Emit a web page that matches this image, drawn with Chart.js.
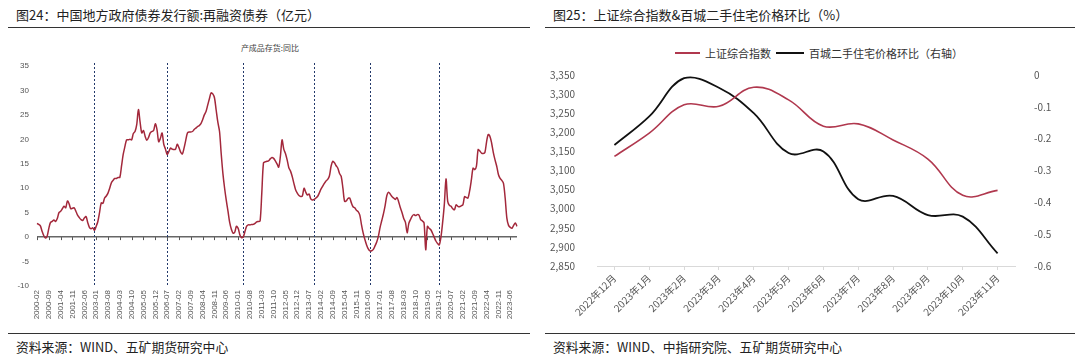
<!DOCTYPE html>
<html>
<head>
<meta charset="utf-8">
<script src="https://cdn.jsdelivr.net/npm/chart.js@4.4.0/dist/chart.umd.min.js"></script>
<style>
body { margin: 0; width: 1080px; height: 361px; background: #fff; position: relative; overflow: hidden; font-family: "Noto Sans CJK SC", sans-serif; }
.title { position: absolute; top: 5px; font-size: 13px; color: #222; white-space: nowrap; }
.rule { position: absolute; height: 1px; background: #333; }
.src { position: absolute; top: 337px; font-size: 12.8px; color: #222; white-space: nowrap; }
.sub { position: absolute; top: 42px; left: 0; width: 540px; text-align: center; font-size: 8px; color: #444; }
.box { position: absolute; }
.legend { position: absolute; top: 45px; font-size: 11px; color: #333; display: flex; align-items: center; white-space: nowrap; }
.legend i { display: inline-block; height: 2px; margin-right: 5px; }
</style>
</head>
<body>
<div class="title" style="left:16px">图24：中国地方政府债券发行额:再融资债券（亿元）</div>
<div class="rule" style="left:8px;width:522px;top:27px"></div>
<div class="sub">产成品存货:同比</div>
<div class="box" style="left:0;top:40px"><canvas id="c1" width="530" height="292"></canvas></div>
<div class="rule" style="left:8px;width:522px;top:333px"></div>
<div class="src" style="left:16px">资料来源：WIND、五矿期货研究中心</div>

<div class="title" style="left:553px">图25：上证综合指数&amp;百城二手住宅价格环比（%）</div>
<div class="rule" style="left:545px;width:530px;top:27px"></div>
<div class="legend" style="left:675px"><i style="width:25px;background:#b0384e"></i>上证综合指数</div>
<div class="legend" style="left:776px"><i style="width:28px;background:#111"></i>百城二手住宅价格环比（右轴）</div>
<div class="box" style="left:545px;top:40px"><canvas id="c2" width="535" height="292"></canvas></div>
<div class="rule" style="left:545px;width:530px;top:333px"></div>
<div class="src" style="left:553px">资料来源：WIND、中指研究院、五矿期货研究中心</div>

<script>
// left chart: monthly from 2000-02
const firstMonth = [2000, 2];
const inventoryYoY = [
  2.8, 2.6, 2.3, 1.2, 0.3, -0.2, 0.2, 1.8, 3.0, 3.2, 3.5,
  3.2, 3.8, 5.0, 5.3, 5.8, 6.3, 6.0, 7.4, 6.8, 5.8, 5.9, 6.0,
  5.3, 4.5, 4.0, 3.6, 3.4, 3.9, 4.2, 3.0, 2.0, 1.7, 1.9, 1.4,
  2.2, 3.2, 5.0, 7.0, 6.9, 8.0, 8.4, 9.0, 10.0, 11.1, 11.6, 12.0,
  12.0, 12.2, 12.2, 14.5, 16.9, 18.5, 19.9, 19.9, 20.0, 19.9, 21.2, 21.6,
  23.0, 26.1, 23.5, 21.3, 21.8, 20.6, 19.8, 20.4, 21.3, 21.6, 21.8, 23.2,
  22.0, 19.5, 20.2, 21.3, 19.0, 18.0, 16.9, 17.5, 18.2, 18.0, 17.9, 18.0,
  19.0, 18.3, 17.4, 17.0, 18.2, 19.8, 21.3, 21.5, 21.5, 21.6, 22.0, 22.3,
  22.6, 22.8, 23.2, 24.0, 25.0, 25.7, 27.0, 28.3, 29.5, 29.3, 28.5, 26.0,
  23.5, 21.6, 17.0, 13.0, 10.0, 7.5, 5.3, 3.0, 1.6, 0.8, 1.0, 2.2,
  1.8, 0.5, -0.1, 0.0, 1.1, 2.2, 2.5, 2.5, 2.6, 2.6, 2.8, 3.1,
  3.2, 3.3, 9.0, 15.2, 15.4, 15.5, 15.6, 16.0, 16.3, 16.1, 15.6, 15.0,
  14.3, 16.5, 19.9, 18.0, 17.1, 15.8, 14.2, 13.5, 12.4, 11.0, 9.7, 9.0,
  8.5, 8.3, 8.4, 10.0, 9.2, 8.6, 8.8, 7.8, 7.6, 7.7, 8.0, 8.3,
  9.0, 9.8, 10.4, 11.0, 11.5, 11.8, 12.5, 14.5, 15.5, 15.2, 14.6, 14.1,
  13.0, 12.4, 10.0, 7.3, 7.4, 7.9, 8.0, 7.0, 6.2, 6.0, 5.5, 5.2,
  4.5, 2.5, 0.8, -0.5, -1.6, -2.4, -2.8, -2.8, -2.5, -1.8, -1.0, 0.2,
  2.0, 3.4, 4.8, 6.5, 8.5, 9.2, 8.8, 8.3, 8.0, 7.7, 8.1, 7.2,
  6.0, 5.0, 3.8, 3.0, 0.9, 2.8, 3.6, 4.3, 4.6, 4.4, 4.6, 4.5,
  3.6, 3.3, 2.9, -2.6, 2.2, 1.8, 1.5, 0.8, 0.0, -0.8, -1.3, -1.6,
  0.0, 3.0, 6.7, 11.9, 7.3, 6.5, 6.3, 5.8, 5.6, 6.6, 6.3, 6.2,
  6.4, 6.6, 8.3, 8.1, 8.0, 9.5, 11.7, 14.1, 13.8, 14.5, 17.9, 17.6,
  17.2, 17.1, 17.3, 19.5, 21.0, 20.6, 19.2, 17.3, 15.8, 14.5, 12.8, 12.0,
  11.6, 11.0, 8.0, 3.9, 2.4, 2.0, 1.8, 2.4, 2.9, 2.2
];
const cycleMarks = ['2002-12', '2006-07', '2010-04', '2013-10', '2016-07', '2019-12'];
const labelEvery = 7;

const months = [];
let yr = firstMonth[0], mo = firstMonth[1];
for (let i = 0; i < inventoryYoY.length; i++) {
  months.push(yr + '-' + String(mo).padStart(2, '0'));
  mo++;
  if (mo > 12) { mo = 1; yr++; }
}

// right chart
const monthCats = ['2022年12月', '2023年1月', '2023年2月', '2023年3月', '2023年4月', '2023年5月',
  '2023年6月', '2023年7月', '2023年8月', '2023年9月', '2023年10月', '2023年11月'];
const sseIndex = [3137, 3198, 3272, 3268, 3318, 3285, 3216, 3222, 3180, 3130, 3035, 3048];
const homePriceMoM = [-0.22, -0.13, -0.01, -0.04, -0.12, -0.245, -0.24, -0.39, -0.38, -0.44, -0.445, -0.56];

Chart.defaults.animation = false;
Chart.defaults.devicePixelRatio = 1;
Chart.defaults.font.family = '"Liberation Sans", Arial, sans-serif';

const cycleLines = {
  id: 'cycleLines',
  beforeDatasetsDraw(chart) {
    const {ctx, chartArea, scales} = chart;
    ctx.save();
    ctx.strokeStyle = '#22386a';
    ctx.lineWidth = 1;
    ctx.setLineDash([2, 2]);
    for (const m of cycleMarks) {
      const x = Math.round(scales.x.getPixelForValue(months.indexOf(m))) + 0.5;
      ctx.beginPath();
      ctx.moveTo(x, chartArea.top - 3);
      ctx.lineTo(x, chartArea.bottom + 1);
      ctx.stroke();
    }
    ctx.restore();
  },
  afterDatasetsDraw(chart) {
    const {ctx, scales} = chart;
    const y0 = scales.y.getPixelForValue(0);
    ctx.save();
    ctx.strokeStyle = '#555';
    ctx.lineWidth = 1;
    for (let i = 0; i < months.length; i += labelEvery) {
      const x = Math.round(scales.x.getPixelForValue(i)) + 0.5;
      ctx.beginPath();
      ctx.moveTo(x, y0);
      ctx.lineTo(x, y0 + 3);
      ctx.stroke();
    }
    ctx.restore();
  }
};

new Chart(document.getElementById('c1'), {
  type: 'line',
  data: {
    labels: months,
    datasets: [{
      data: inventoryYoY,
      borderColor: '#a3283b',
      borderWidth: 1.5,
      pointRadius: 0,
      tension: 0.3
    }]
  },
  options: {
    responsive: false,
    layout: { padding: { top: 26, right: 13, left: 0, bottom: 0 } },
    plugins: { legend: { display: false }, tooltip: { enabled: false } },
    scales: {
      x: {
        offset: false,
        grid: { display: false, drawTicks: false },
        border: { display: false },
        ticks: {
          autoSkip: false, minRotation: 90, maxRotation: 90,
          font: { size: 8 }, color: '#555', padding: 4,
          callback: (v, i) => i % labelEvery === 0 ? months[i] : null
        },
        afterFit: s => { s.height = 46; }
      },
      y: {
        min: -10, max: 35,
        ticks: { stepSize: 5, font: { size: 8 }, color: '#555', padding: 8 },
        grid: {
          drawTicks: false,
          lineWidth: 1.5,
          color: c => (c.tick && c.tick.value === 0) ? '#666' : 'rgba(0,0,0,0)'
        },
        border: { display: false },
        afterFit: s => { s.width = 37; }
      }
    }
  },
  plugins: [cycleLines]
});

new Chart(document.getElementById('c2'), {
  type: 'line',
  data: {
    labels: monthCats,
    datasets: [
      { label: '上证综合指数', data: sseIndex, yAxisID: 'y', borderColor: '#b0384e', borderWidth: 1.6, pointRadius: 0, tension: 0.4 },
      { label: '百城二手住宅价格环比（右轴）', data: homePriceMoM, yAxisID: 'y1', borderColor: '#111', borderWidth: 1.8, pointRadius: 0, tension: 0.4 }
    ]
  },
  options: {
    responsive: false,
    layout: { padding: { top: 35, right: 0, left: 0, bottom: 0 } },
    plugins: { legend: { display: false }, tooltip: { enabled: false } },
    scales: {
      x: {
        offset: true,
        grid: { drawOnChartArea: false, drawTicks: true, tickLength: 4, color: '#d9d9d9' },
        border: { color: '#d9d9d9' },
        ticks: {
          autoSkip: false, minRotation: 45, maxRotation: 45,
          font: { size: 10, family: '"Noto Sans CJK SC", sans-serif' }, color: '#555', padding: 2
        },
        afterFit: s => { s.height = 66; }
      },
      y: {
        position: 'left',
        min: 2850, max: 3350,
        ticks: {
          stepSize: 50, font: { size: 10, family: '"Noto Sans CJK SC", sans-serif' }, color: '#555', padding: 14,
          callback: v => v.toLocaleString('en-US')
        },
        grid: { display: false },
        border: { display: false },
        afterFit: s => { s.width = 52; }
      },
      y1: {
        position: 'right',
        min: -0.6, max: 0,
        ticks: {
          stepSize: 0.1, font: { size: 10, family: '"Noto Sans CJK SC", sans-serif' }, color: '#555', padding: 11,
          callback: v => { const r = Math.round(v * 10) / 10; return r === 0 ? '0' : r.toFixed(1); }
        },
        grid: { display: false },
        border: { display: false },
        afterFit: s => { s.width = 65; }
      }
    }
  }
});
</script>
</body>
</html>
